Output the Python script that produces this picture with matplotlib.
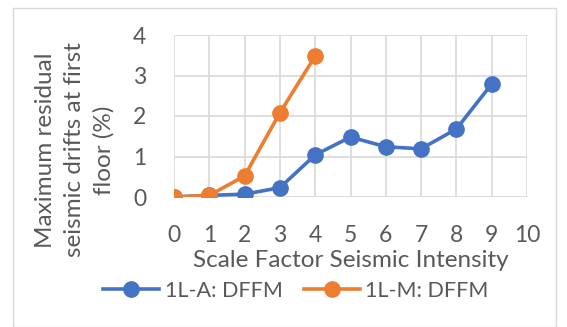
import matplotlib.pyplot as plt
from matplotlib.patches import Rectangle

plt.rcParams['font.family'] = ['Lato', 'DejaVu Sans']

x_a = [0, 1, 2, 3, 4, 5, 6, 7, 8, 9]
drift_a = [0.0, 0.04, 0.07, 0.23, 1.04, 1.48, 1.24, 1.19, 1.68, 2.79]
x_m = [0, 1, 2, 3, 4]
drift_m = [0.0, 0.04, 0.52, 2.08, 3.48]
label_a = '1L-A: DFFM'
label_m = '1L-M: DFFM'

grey = '#595959'
W, H = 567, 327
fig = plt.figure(figsize=(W / 100, H / 100), dpi=100)
ax = fig.add_axes([174 / W, 1 - 197 / H, (527 - 174) / W, (197 - 35) / H])

la, = ax.plot(x_a, drift_a, color='#4472C4', lw=2.6, marker='o', ms=11, zorder=3)
lm, = ax.plot(x_m, drift_m, color='#ED7D31', lw=2.6, marker='o', ms=11, zorder=4)

ax.set_xlim(0, 10)
ax.set_ylim(0, 4)
ax.set_xticks(range(0, 11))
ax.set_yticks(range(0, 5))
ax.grid(True, color='#d9d9d9', lw=1.2)
ax.set_axisbelow(True)
for s in ax.spines.values():
    s.set_visible(False)
ax.tick_params(length=0, labelsize=16.5, labelcolor=grey)
ax.tick_params(axis='y', pad=20)
ax.tick_params(axis='x', pad=20)
for lab in ax.get_xticklabels() + ax.get_yticklabels():
    lab.set_clip_on(False)

ax.set_xlabel('Scale Factor Seismic Intensity', fontsize=17.5, color=grey, labelpad=3)
fig.text(75 / W, 1 - 150 / H, 'Maximum residual\nseismic drifts at first\nfloor (%)',
         rotation=90, ha='center', va='center', fontsize=17.5, color=grey,
         linespacing=1.45, multialignment='center')

fig.legend([la, lm], [label_a, label_m], loc='center', bbox_to_anchor=(0.522, 1 - 291 / H),
           ncol=2, frameon=False, fontsize=15.5, labelcolor=grey, handlelength=2.6,
           handletextpad=0.25, columnspacing=1.0, borderaxespad=0)

fig.patches.append(Rectangle((13 / W, 0), (556 - 13) / W, 1 - 8 / H, transform=fig.transFigure,
                             fill=False, edgecolor='#d9d9d9', lw=1))

fig.savefig('out.png', dpi=100)
